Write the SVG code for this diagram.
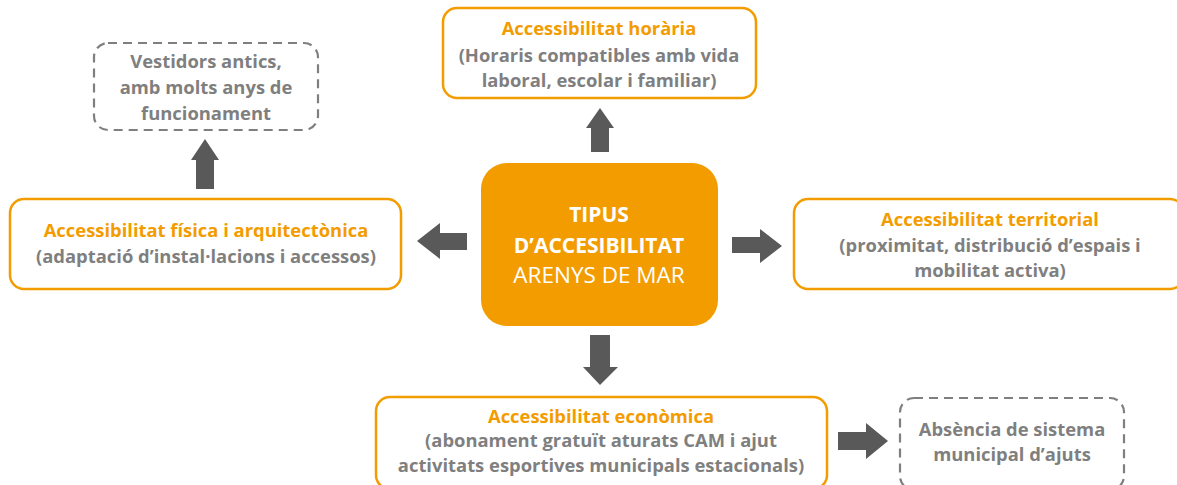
<svg xmlns="http://www.w3.org/2000/svg" width="1177" height="485" viewBox="0 0 1177 485">
<style>
.box{fill:#fff;stroke:#F39C00;stroke-width:2.5}
.dash{fill:#fff;stroke:#7F7F7F;stroke-width:2.2;stroke-dasharray:9 6}
.t{font-family:"Open Sans","Liberation Sans",sans-serif;font-weight:bold;font-size:18.4px;text-anchor:middle}
.o{fill:#F39C00}
.g{fill:#7F7F7F}
.w{fill:#fff;font-size:21px}
.wr{font-weight:normal;font-size:22.5px}
.arr{fill:#595959}
</style>
<rect width="1177" height="485" fill="#fff"/>
<g id="connectors">
<polygon class="arr" points="591,152 591,128 586,128 600,108 614,128 609,128 609,152"/>
<polygon class="arr" points="196,189 196,160 191,160 205,139 219,160 214,160 214,189"/>
<polygon class="arr" points="467,233 440,233 440,223 417,241 440,259 440,250 467,250"/>
<polygon class="arr" points="732,237 760,237 760,229 782,246 760,263 760,253 732,253"/>
<polygon class="arr" points="590,335 610,335 610,367 618,367 600,385 583,367 590,367"/>
<polygon class="arr" points="838,432 866,432 866,423 888,441 866,459 866,450 838,450"/>
</g>
<g id="n-center">
<rect x="481" y="163" width="237" height="163" rx="26" fill="#F39C00"/>
<text class="t w" x="599" y="222">TIPUS</text>
<text class="t w" x="599" y="253">D’ACCESIBILITAT</text>
<text class="t w wr" x="599" y="283">ARENYS DE MAR</text>
</g>
<g id="n-horaria">
<rect class="box" x="443" y="8" width="313" height="90" rx="14"/>
<text class="t o" x="599" y="35">Accessibilitat horària</text>
<text class="t g" x="599" y="62">(Horaris compatibles amb vida</text>
<text class="t g" x="599" y="87">laboral, escolar i familiar)</text>
</g>
<g id="n-vestidors">
<rect class="dash" x="94" y="43" width="224" height="87" rx="14"/>
<text class="t g" x="206" y="68">Vestidors antics,</text>
<text class="t g" x="206" y="94">amb molts anys de</text>
<text class="t g" x="206" y="120">funcionament</text>
</g>
<g id="n-fisica">
<rect class="box" x="10" y="199" width="391" height="90" rx="14"/>
<text class="t o" x="206" y="237">Accessibilitat física i arquitectònica</text>
<text class="t g" x="206" y="263">(adaptació d’instal·lacions i accessos)</text>
</g>
<g id="n-territorial">
<rect class="box" x="794" y="199" width="390" height="90" rx="14"/>
<text class="t o" x="990" y="226">Accessibilitat territorial</text>
<text class="t g" x="990" y="252">(proximitat, distribució d’espais i</text>
<text class="t g" x="990" y="277">mobilitat activa)</text>
</g>
<g id="n-economica">
<rect class="box" x="376" y="397" width="451" height="92" rx="14"/>
<text class="t o" x="601" y="423">Accessibilitat econòmica</text>
<text class="t g" x="601" y="447">(abonament gratuït aturats CAM i ajut</text>
<text class="t g" x="601" y="472">activitats esportives municipals estacionals)</text>
</g>
<g id="n-ajuts">
<rect class="dash" x="900" y="398" width="224" height="92" rx="14"/>
<text class="t g" x="1012" y="436">Absència de sistema</text>
<text class="t g" x="1012" y="461">municipal d’ajuts</text>
</g>
</svg>
